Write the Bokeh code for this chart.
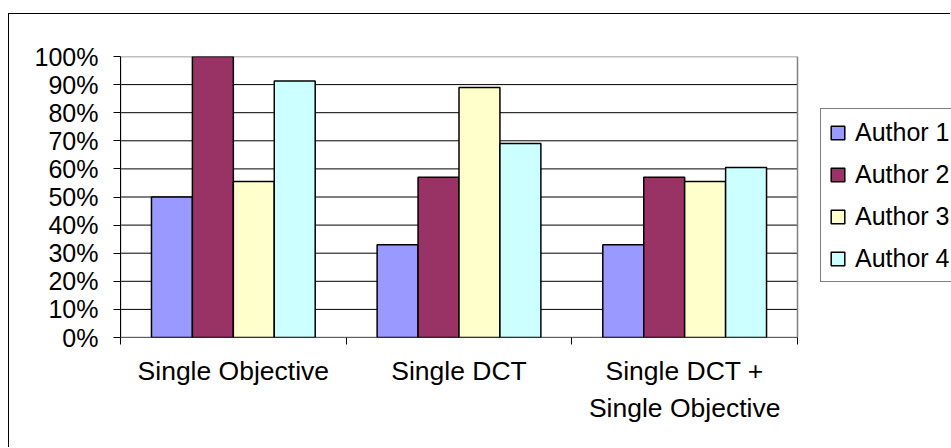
from bokeh.plotting import figure
from bokeh.models import (FixedTicker, NumeralTickFormatter, Range1d, Legend,
                          LegendItem)
from bokeh.embed import file_html
from bokeh.resources import INLINE

# Data
categories = ["Single Objective", "Single DCT", "Single DCT +\nSingle Objective"]
series_names = ["Author 1", "Author 2", "Author 3", "Author 4"]
author1 = [0.50, 0.33, 0.33]
author2 = [1.00, 0.57, 0.57]
author3 = [0.555, 0.89, 0.555]
author4 = [0.913, 0.69, 0.605]
colors = ["#9999FF", "#993366", "#FFFFCC", "#CCFFFF"]
y_ticks = [0.0, 0.1, 0.2, 0.3, 0.4, 0.5, 0.6, 0.7, 0.8, 0.9, 1.0]

FONT = "Liberation Sans"
SIZE = "25px"

# The frame runs to the right edge so that the legend can sit beside the
# plot area; the plot area itself spans x = 0 .. n categories.
n = len(categories)
area_px = 677          # width of the plot area in pixels
frame_px = 831         # width of the whole frame in pixels
x_end = n * frame_px / area_px

p = figure(width=942, height=434, output_backend="svg", toolbar_location=None,
           x_range=Range1d(0, x_end), y_range=Range1d(0, 1),
           min_border_left=111, min_border_right=0, min_border_top=42,
           min_border_bottom=111)
p.styles = {"margin-left": "8px", "margin-top": "13px",
            "border-left": "1px solid #000", "border-top": "1px solid #000"}
p.background_fill_color = "white"
p.border_fill_color = "white"
p.outline_line_color = None
p.xgrid.visible = False
p.ygrid.visible = False

# Horizontal gridlines across the plot area only
grid_y = y_ticks[1:-1]
p.segment(x0=[0] * len(grid_y), x1=[n] * len(grid_y), y0=grid_y, y1=grid_y,
          line_color="black", line_width=1)

# Plot-area border
p.quad(left=[0], right=[n], bottom=[0], top=[1], fill_color=None,
       line_color="#808080", line_width=1.5)

# Clustered bars: four bars side by side in each category slot
bar_w = 0.1814
items = []
for j, (name, vals) in enumerate(zip(series_names, [author1, author2, author3, author4])):
    xs = [i + 0.5 + (j - 1.5) * bar_w for i in range(n)]
    r = p.vbar(x=xs, top=vals, width=bar_w, bottom=0,
               fill_color=colors[j], line_color="black", line_width=1.5)
    items.append(LegendItem(label=name, renderers=[r]))

# Category axis baseline
p.segment(x0=[0], x1=[n], y0=[0], y1=[0], line_color="black", line_width=1)

# Y axis
yax = p.yaxis[0]
yax.ticker = FixedTicker(ticks=y_ticks)
yax.formatter = NumeralTickFormatter(format="0%")
yax.major_tick_out = 7
yax.major_tick_in = 0
yax.minor_tick_out = 0
yax.minor_tick_in = 0
yax.axis_line_color = "black"
yax.major_tick_line_color = "black"
yax.major_label_standoff = 15
yax.major_label_text_font = FONT
yax.major_label_text_font_size = SIZE
yax.major_label_text_color = "black"

# X axis: labels centred on slots, ticks on slot boundaries
xax = p.xaxis[0]
xax.ticker = FixedTicker(ticks=[i + 0.5 for i in range(n)],
                         minor_ticks=list(range(n + 1)))
xax.major_label_overrides = {i + 0.5: c for i, c in enumerate(categories)}
xax.major_tick_out = 0
xax.major_tick_in = 0
xax.minor_tick_out = 7
xax.minor_tick_in = 0
xax.minor_tick_line_color = "black"
xax.axis_line_color = None
xax.major_label_standoff = 11
xax.major_label_text_font = FONT
xax.major_label_text_font_size = "26.5px"
xax.major_label_text_color = "black"
xax.major_label_text_line_height = 1.25

# Legend to the right of the plot area
legend = Legend(items=items, location=(700, 55), margin=0,
                padding=8, spacing=12, label_height=30,
                glyph_width=17, glyph_height=17, label_standoff=9,
                label_text_font=FONT, label_text_font_size=SIZE,
                label_text_color="black",
                border_line_color="black", border_line_width=1,
                background_fill_color="white", background_fill_alpha=1)
p.add_layout(legend, "center")

open("out.html", "w").write(file_html(p, INLINE))
